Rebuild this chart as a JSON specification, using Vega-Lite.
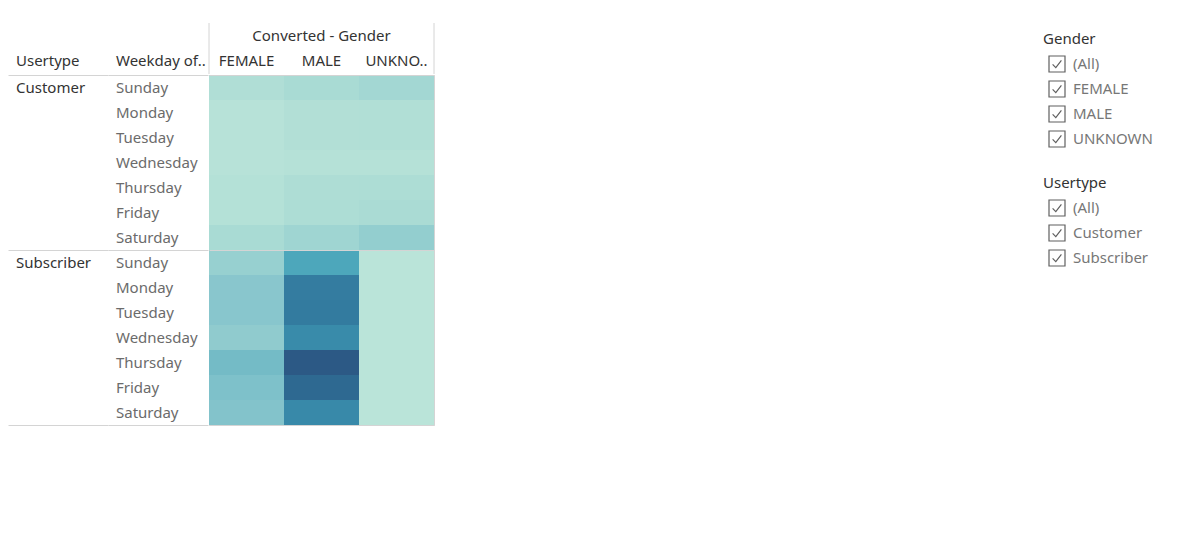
{
  "$schema": "https://vega.github.io/schema/vega-lite/v6.json",
  "padding": {"left": 8, "top": 22, "right": 5, "bottom": 5},
  "background": "white",
  "config": {
    "font": "Noto Sans",
    "view": {"stroke": null},
    "scale": {"bandPaddingInner": 0, "bandPaddingOuter": 0, "offsetBandPaddingInner": 0, "offsetBandPaddingOuter": 0, "bandWithNestedOffsetPaddingInner": 0, "bandWithNestedOffsetPaddingOuter": 0},
    "text": {"font": "Noto Sans", "fontSize": 15},
    "legend": {
      "orient": "right",
      "offset": 0,
      "padding": 9,
      "titleFont": "Noto Sans",
      "titleFontSize": 15,
      "titleFontWeight": "normal",
      "titleColor": "#333333",
      "titlePadding": 8,
      "labelFont": "Noto Sans",
      "labelFontSize": 15,
      "labelColor": "#777777",
      "labelOffset": 7,
      "symbolSize": 256,
      "symbolStrokeColor": "#5f5f5f",
      "symbolStrokeWidth": 1.2,
      "symbolFillColor": "transparent",
      "symbolOffset": 5,
      "symbolOpacity": 1,
      "rowPadding": 3
    }
  },
  "datasets": {
    "trips": [
      {"usertype": "Customer", "weekday": "Sunday", "gender": "FEMALE", "trips": 8012},
      {"usertype": "Customer", "weekday": "Sunday", "gender": "MALE", "trips": 12870},
      {"usertype": "Customer", "weekday": "Sunday", "gender": "UNKNOWN", "trips": 17550},
      {"usertype": "Customer", "weekday": "Monday", "gender": "FEMALE", "trips": 2410},
      {"usertype": "Customer", "weekday": "Monday", "gender": "MALE", "trips": 6420},
      {"usertype": "Customer", "weekday": "Monday", "gender": "UNKNOWN", "trips": 7180},
      {"usertype": "Customer", "weekday": "Tuesday", "gender": "FEMALE", "trips": 2530},
      {"usertype": "Customer", "weekday": "Tuesday", "gender": "MALE", "trips": 6350},
      {"usertype": "Customer", "weekday": "Tuesday", "gender": "UNKNOWN", "trips": 7090},
      {"usertype": "Customer", "weekday": "Wednesday", "gender": "FEMALE", "trips": 2290},
      {"usertype": "Customer", "weekday": "Wednesday", "gender": "MALE", "trips": 4010},
      {"usertype": "Customer", "weekday": "Wednesday", "gender": "UNKNOWN", "trips": 4120},
      {"usertype": "Customer", "weekday": "Thursday", "gender": "FEMALE", "trips": 4830},
      {"usertype": "Customer", "weekday": "Thursday", "gender": "MALE", "trips": 9580},
      {"usertype": "Customer", "weekday": "Thursday", "gender": "UNKNOWN", "trips": 10430},
      {"usertype": "Customer", "weekday": "Friday", "gender": "FEMALE", "trips": 4920},
      {"usertype": "Customer", "weekday": "Friday", "gender": "MALE", "trips": 9690},
      {"usertype": "Customer", "weekday": "Friday", "gender": "UNKNOWN", "trips": 12050},
      {"usertype": "Customer", "weekday": "Saturday", "gender": "FEMALE", "trips": 12790},
      {"usertype": "Customer", "weekday": "Saturday", "gender": "MALE", "trips": 20830},
      {"usertype": "Customer", "weekday": "Saturday", "gender": "UNKNOWN", "trips": 30420},
      {"usertype": "Subscriber", "weekday": "Sunday", "gender": "FEMALE", "trips": 27240},
      {"usertype": "Subscriber", "weekday": "Sunday", "gender": "MALE", "trips": 76930},
      {"usertype": "Subscriber", "weekday": "Sunday", "gender": "UNKNOWN", "trips": 152},
      {"usertype": "Subscriber", "weekday": "Monday", "gender": "FEMALE", "trips": 39610},
      {"usertype": "Subscriber", "weekday": "Monday", "gender": "MALE", "trips": 115260},
      {"usertype": "Subscriber", "weekday": "Monday", "gender": "UNKNOWN", "trips": 203},
      {"usertype": "Subscriber", "weekday": "Tuesday", "gender": "FEMALE", "trips": 39850},
      {"usertype": "Subscriber", "weekday": "Tuesday", "gender": "MALE", "trips": 116790},
      {"usertype": "Subscriber", "weekday": "Tuesday", "gender": "UNKNOWN", "trips": 188},
      {"usertype": "Subscriber", "weekday": "Wednesday", "gender": "FEMALE", "trips": 33270},
      {"usertype": "Subscriber", "weekday": "Wednesday", "gender": "MALE", "trips": 102380},
      {"usertype": "Subscriber", "weekday": "Wednesday", "gender": "UNKNOWN", "trips": 176},
      {"usertype": "Subscriber", "weekday": "Thursday", "gender": "FEMALE", "trips": 52830},
      {"usertype": "Subscriber", "weekday": "Thursday", "gender": "MALE", "trips": 160120},
      {"usertype": "Subscriber", "weekday": "Thursday", "gender": "UNKNOWN", "trips": 214},
      {"usertype": "Subscriber", "weekday": "Friday", "gender": "FEMALE", "trips": 46380},
      {"usertype": "Subscriber", "weekday": "Friday", "gender": "MALE", "trips": 139240},
      {"usertype": "Subscriber", "weekday": "Friday", "gender": "UNKNOWN", "trips": 197},
      {"usertype": "Subscriber", "weekday": "Saturday", "gender": "FEMALE", "trips": 43160},
      {"usertype": "Subscriber", "weekday": "Saturday", "gender": "MALE", "trips": 104050},
      {"usertype": "Subscriber", "weekday": "Saturday", "gender": "UNKNOWN", "trips": 139}
    ],
    "genderFilter": [{"gitem": "(All)"}, {"gitem": "FEMALE"}, {"gitem": "MALE"}, {"gitem": "UNKNOWN"}],
    "usertypeFilter": [{"uitem": "(All)"}, {"uitem": "Customer"}, {"uitem": "Subscriber"}]
  },
  "spacing": 579,
  "hconcat": [
    {
      "spacing": -5,
      "vconcat": [
        {
          "spacing": 0,
          "hconcat": [
            {
              "width": 100,
              "height": 51,
              "data": {"name": "trips"},
              "transform": [{"filter": "datum.usertype == 'Customer' && datum.weekday == 'Sunday' && datum.gender == 'FEMALE'"}],
              "mark": {"type": "text", "align": "left", "dx": 8, "color": "#333333", "fontSize": 15},
              "encoding": {
                "x": {"datum": "Usertype", "type": "nominal", "bandPosition": 0, "scale": {"type": "band"}, "axis": null},
                "y": {"datum": "labels", "type": "nominal", "scale": {"type": "band", "domain": ["title", "labels"]}, "axis": null},
                "text": {"value": "Usertype"}
              }
            },
            {
              "width": 100,
              "height": 51,
              "data": {"name": "trips"},
              "transform": [{"filter": "datum.usertype == 'Customer' && datum.weekday == 'Sunday' && datum.gender == 'FEMALE'"}],
              "mark": {"type": "text", "align": "left", "dx": 8, "color": "#333333", "fontSize": 15},
              "encoding": {
                "x": {"datum": "Weekday", "type": "nominal", "bandPosition": 0, "scale": {"type": "band"}, "axis": null},
                "y": {"datum": "labels", "type": "nominal", "scale": {"type": "band", "domain": ["title", "labels"]}, "axis": null},
                "text": {"value": "Weekday of.."}
              }
            },
            {
              "width": 225,
              "height": 51,
              "data": {"name": "trips"},
              "transform": [{"filter": "datum.usertype == 'Customer' && datum.weekday == 'Sunday'"}],
              "layer": [
                {
                  "transform": [{"filter": "datum.gender == 'FEMALE'"}],
                  "mark": {"type": "rule", "color": "#d4d4d4", "strokeWidth": 1},
                  "encoding": {
                    "x": {"field": "gender", "type": "nominal", "bandPosition": 0, "scale": {"type": "band", "domain": ["FEMALE", "MALE", "UNKNOWN"]}, "axis": null}
                  }
                },
                {
                  "transform": [{"filter": "datum.gender == 'UNKNOWN'"}],
                  "mark": {"type": "rule", "color": "#d4d4d4", "strokeWidth": 1},
                  "encoding": {
                    "x": {"field": "gender", "type": "nominal", "bandPosition": 1, "scale": {"type": "band", "domain": ["FEMALE", "MALE", "UNKNOWN"]}, "axis": null}
                  }
                },
                {
                  "transform": [{"filter": "datum.gender == 'FEMALE'"}],
                  "mark": {"type": "text", "color": "#333333", "fontSize": 15},
                  "encoding": {
                    "y": {"datum": "title", "type": "nominal", "scale": {"type": "band", "domain": ["title", "labels"]}, "axis": null},
                    "text": {"value": "Converted - Gender"}
                  }
                },
                {
                  "mark": {"type": "text", "color": "#333333", "fontSize": 15, "limit": 68, "ellipsis": ".."},
                  "encoding": {
                    "x": {"field": "gender", "type": "nominal", "scale": {"type": "band", "domain": ["FEMALE", "MALE", "UNKNOWN"]}, "axis": null},
                    "y": {"datum": "labels", "type": "nominal", "scale": {"type": "band", "domain": ["title", "labels"]}, "axis": null},
                    "text": {"field": "gender"}
                  }
                }
              ]
            }
          ]
        },
        {
          "spacing": 0,
          "hconcat": [
            {
              "width": 100,
              "height": 350,
              "data": {"name": "trips"},
              "transform": [{"filter": "datum.weekday == 'Sunday' && datum.gender == 'FEMALE'"}],
              "mark": {"type": "text", "align": "left", "dx": 8, "color": "#333333", "fontSize": 15},
              "encoding": {
                "x": {"datum": "Usertype", "type": "nominal", "bandPosition": 0, "scale": {"type": "band"}, "axis": null},
                "y": {"field": "usertype", "type": "nominal", "scale": {"type": "band"},
                  "axis": {"title": null, "labels": false, "ticks": false, "domain": false, "grid": true, "tickBand": "extent", "gridColor": "#d4d4d4"}},
                "yOffset": {"field": "weekday", "type": "nominal", "sort": ["Sunday", "Monday", "Tuesday", "Wednesday", "Thursday", "Friday", "Saturday"], "scale": {"domain": ["Sunday", "Monday", "Tuesday", "Wednesday", "Thursday", "Friday", "Saturday"]}},
                "text": {"field": "usertype"}
              }
            },
            {
              "width": 100,
              "height": 350,
              "data": {"name": "trips"},
              "transform": [{"filter": "datum.gender == 'FEMALE'"}],
              "mark": {"type": "text", "align": "left", "dx": 8, "color": "#6b6b6b", "fontSize": 15},
              "encoding": {
                "x": {"datum": "Weekday", "type": "nominal", "bandPosition": 0, "scale": {"type": "band"}, "axis": null},
                "y": {"field": "usertype", "type": "nominal", "scale": {"type": "band"},
                  "axis": {"title": null, "labels": false, "ticks": false, "domain": false, "grid": true, "tickBand": "extent", "gridColor": "#d4d4d4"}},
                "yOffset": {"field": "weekday", "type": "nominal", "sort": ["Sunday", "Monday", "Tuesday", "Wednesday", "Thursday", "Friday", "Saturday"], "scale": {"domain": ["Sunday", "Monday", "Tuesday", "Wednesday", "Thursday", "Friday", "Saturday"]}},
                "text": {"field": "weekday"}
              }
            },
            {
              "width": 225,
              "height": 350,
              "data": {"name": "trips"},
              "view": {"stroke": "#d4d4d4"},
              "mark": {"type": "rect"},
              "encoding": {
                "x": {"field": "gender", "type": "nominal", "scale": {"domain": ["FEMALE", "MALE", "UNKNOWN"]}, "axis": null},
                "y": {"field": "usertype", "type": "nominal",
                  "axis": {"title": null, "labels": false, "ticks": false, "domain": false, "grid": true, "tickBand": "extent", "gridColor": "#d4d4d4", "zindex": 1}},
                "yOffset": {"field": "weekday", "type": "nominal", "sort": ["Sunday", "Monday", "Tuesday", "Wednesday", "Thursday", "Friday", "Saturday"], "scale": {"domain": ["Sunday", "Monday", "Tuesday", "Wednesday", "Thursday", "Friday", "Saturday"]}},
                "color": {"field": "trips", "type": "quantitative", "scale": {"range": ["#bae4d9", "#88c6cd", "#47a4ba", "#32779c", "#2c5985"]}, "legend": null}
              }
            }
          ]
        }
      ]
    },
    {
      "width": 20,
      "height": 20,
      "layer": [
        {
          "data": {"name": "genderFilter"},
          "mark": {"type": "point", "opacity": 0},
          "encoding": {
            "shape": {"field": "gitem", "type": "nominal", "title": "Gender",
              "scale": {"domain": ["(All)", "FEMALE", "MALE", "UNKNOWN"],
                "range": ["M-1,-1H1V1H-1ZM-0.55,0.05L-0.15,0.45L0.55,-0.45", "M-1,-1H1V1H-1ZM-0.55,0.05L-0.15,0.45L0.55,-0.45", "M-1,-1H1V1H-1ZM-0.55,0.05L-0.15,0.45L0.55,-0.45", "M-1,-1H1V1H-1ZM-0.55,0.05L-0.15,0.45L0.55,-0.45"]},
              "legend": {"symbolOpacity": 1, "symbolStrokeColor": "#5f5f5f", "symbolFillColor": "transparent"}}
          }
        },
        {
          "data": {"name": "usertypeFilter"},
          "mark": {"type": "point", "opacity": 0},
          "encoding": {
            "shape": {"field": "uitem", "type": "nominal", "title": "Usertype",
              "scale": {"domain": ["(All)", "Customer", "Subscriber"],
                "range": ["M-1,-1H1V1H-1ZM-0.55,0.05L-0.15,0.45L0.55,-0.45", "M-1,-1H1V1H-1ZM-0.55,0.05L-0.15,0.45L0.55,-0.45", "M-1,-1H1V1H-1ZM-0.55,0.05L-0.15,0.45L0.55,-0.45"]},
              "legend": {"symbolOpacity": 1, "symbolStrokeColor": "#5f5f5f", "symbolFillColor": "transparent"}}
          }
        }
      ],
      "resolve": {"scale": {"shape": "independent"}, "legend": {"shape": "independent"}}
    }
  ]
}
